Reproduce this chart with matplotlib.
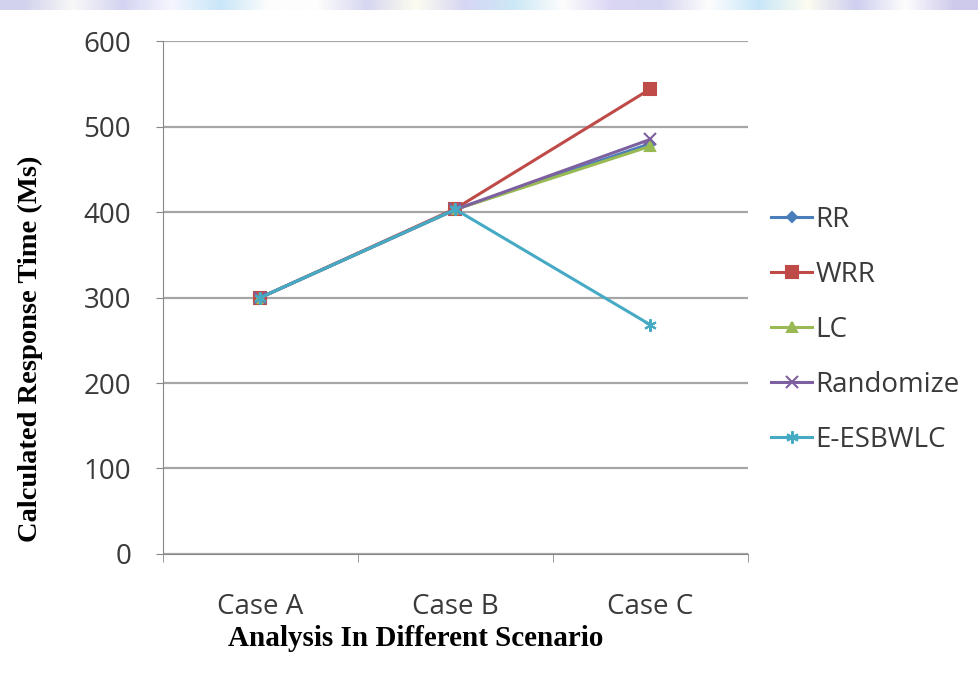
import numpy as np
import matplotlib.pyplot as plt
from matplotlib.colors import to_rgb

cases = ['Case A', 'Case B', 'Case C']
rr = [300, 403, 480]
wrr = [300, 404, 544]
lc = [300, 403, 477]
randomize = [300, 403, 485]
e_esbwlc = [300, 403, 268]

series = [
    ('RR', rr, '#4a7ebb', 'D', 5),
    ('WRR', wrr, '#be4b48', 's', 8),
    ('LC', lc, '#98b954', '^', 7),
    ('Randomize', randomize, '#7d60a0', 'x', 8),
    ('E-ESBWLC', e_esbwlc, '#46aac5', (6, 2, 0), 9),
]

# banner strip colours along the top edge, left to right
band_cols = ['#d2d2ee', '#f8f8f8', '#d4d4f2', '#f6f6ff', '#c8e6f8', '#fdfdfd', '#fdfdfd',
             '#d6d6f2', '#fdfdf0', '#d6d6f4', '#cce8f6', '#fdfdfd', '#dad6f4', '#d6d6f2',
             '#fdfdfd', '#c8e6f8', '#fdfdf0', '#cecef0', '#fdfdfd', '#cecaec']

fig = plt.figure(figsize=(9.79, 6.77), dpi=100)

band = fig.add_axes([0, 0.985, 1, 0.015])
band.imshow(np.array([[to_rgb(c) for c in band_cols]]), aspect='auto',
            interpolation='bilinear')
band.axis('off')

ax = fig.add_axes([0.1665, 0.1817, 0.5975, 0.7577])
x = range(len(cases))
for name, vals, color, marker, ms in series:
    ax.plot(x, vals, color=color, marker=marker, markersize=ms, linewidth=2.2,
            markeredgewidth=1.5, label=name)

ax.set_ylim(0, 600)
ax.set_yticks(range(0, 601, 100))
ax.set_xlim(-0.5, 2.5)
ax.set_xticks(list(x))
ax.set_xticklabels(cases)
ax.set_xticks([-0.5, 0.5, 1.5, 2.5], minor=True)
ax.tick_params(axis='x', which='major', length=0, pad=28)
ax.tick_params(axis='x', which='minor', length=6, color='#888888', direction='out')
ax.tick_params(axis='y', length=5, color='#888888', pad=18)
ax.tick_params(labelsize=20, labelcolor='#3a3a3a')
for lab in ax.get_xticklabels() + ax.get_yticklabels():
    lab.set_family('Open Sans')

ax.grid(axis='y', color='#a6a6a6', linewidth=1.6)
ax.set_axisbelow(True)
for s in ['top', 'right']:
    ax.spines[s].set_visible(False)
ax.spines['left'].set_color('#888888')
ax.spines['bottom'].set_color('#888888')

ax.set_ylabel('Calculated Response Time (Ms)', family='Liberation Serif',
              fontweight='bold', fontsize=20.5)
ax.set_xlabel('Analysis In Different Scenario', family='Liberation Serif',
              fontweight='bold', fontsize=21)
ax.yaxis.set_label_coords(-0.206, 0.40)
ax.xaxis.set_label_coords(0.432, -0.138)

leg = ax.legend(loc='upper left', bbox_to_anchor=(1.02, 0.70), frameon=False,
                handlelength=1.5, handletextpad=0.1, labelspacing=0.97,
                borderaxespad=0, prop={'family': 'Open Sans', 'size': 20})
for t in leg.get_texts():
    t.set_color('#3a3a3a')

fig.savefig('out.png', dpi=100)
